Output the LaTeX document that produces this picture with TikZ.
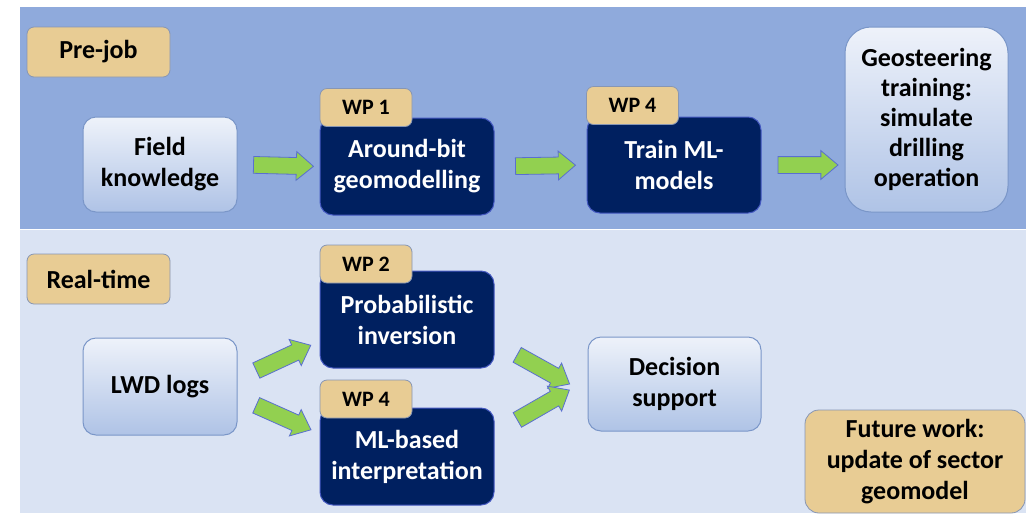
\documentclass[tikz,border=0pt]{standalone}
\usepackage{fontspec}
\setmainfont{Carlito}
\usetikzlibrary{shapes.arrows,calc}
\definecolor{topband}{HTML}{8FAADC}
\definecolor{botband}{HTML}{DAE3F3}
\definecolor{navy}{HTML}{002060}
\definecolor{navyedge}{HTML}{4458C0}
\definecolor{lightedge}{HTML}{7A96C8}
\definecolor{lighttop}{HTML}{EEF2FA}
\definecolor{lightbot}{HTML}{AFC3E6}
\definecolor{tagfill}{HTML}{E8CC94}
\definecolor{tagedge}{HTML}{8796B4}
\definecolor{arrgreen}{HTML}{92D050}
\definecolor{arredge}{HTML}{5A6FD0}
\tikzset{
  txt/.style={font=\fontsize{26}{31}\selectfont\bfseries, align=center, inner sep=0pt},
  lightbox/.style={txt, rectangle, rounded corners=13pt, draw=lightedge, line width=1pt,
    top color=lighttop, bottom color=lightbot, text=black},
  darkbox/.style={txt, rectangle, rounded corners=13pt, draw=navyedge, line width=1pt,
    fill=navy, text=white},
  tagbox/.style={txt, rectangle, rounded corners=7pt, draw=tagedge, line width=0.8pt,
    fill=tagfill, text=black},
  wptag/.style={tagbox, font=\fontsize{22}{26}\selectfont\bfseries, minimum width=92pt, minimum height=38pt},
  garrow/.style={single arrow, draw=arredge, fill=arrgreen, line width=0.8pt,
    inner sep=8pt, single arrow head extend=6pt, single arrow tip angle=80,
    minimum height=60pt, minimum width=0pt, sloped, midway, outer sep=0pt}
}
\begin{document}
\begin{tikzpicture}[x=1pt,y=-1pt]
\useasboundingbox (0,0) rectangle (1032,515);
\fill[white] (0,0) rectangle (1032,515);
% bands
\fill[topband] (20,7) rectangle (1026,229);
\fill[botband] (20,230) rectangle (1026,513);

% pre-job row
\node[tagbox, minimum width=143pt, minimum height=50pt] (prejob) at (98.5,52) {Pre-job};
\node[lightbox, minimum width=154pt, minimum height=95pt] (field) at (160,164.5) {Field\\knowledge};
\node[darkbox, minimum width=174pt, minimum height=97pt] (around) at (407,166.5) {Around-bit\\geomodelling};
\node[wptag] (wp1) at (366,107.5) {WP 1};
\node[darkbox, minimum width=174pt, minimum height=96pt] (train) at (674,165) {Train ML-\\models};
\node[wptag] (wp4a) at (632.5,105.5) {WP 4};
\node[lightbox, rounded corners=26pt, font=\fontsize{26}{30}\selectfont\bfseries, minimum width=163pt, minimum height=185pt] (geo) at (926.5,119.5) {Geosteering\\training:\\simulate\\drilling\\operation};

\path (field.east) -- node[garrow] (ar1) {} (around.west);
\path (around.east) -- node[garrow] (ar2) {} (train.west);
\path (train.east) -- node[garrow] (ar3) {} (train.east -| geo.west);

% real-time row
\node[tagbox, minimum width=143pt, minimum height=50pt] (realtime) at (98.5,279) {Real-time};
\node[lightbox, minimum width=154pt, minimum height=97pt] (lwd) at (160,386.5) {LWD logs};
\node[darkbox, minimum width=174pt, minimum height=97pt] (prob) at (407,319.5) {Probabilistic\\inversion};
\node[wptag] (wp2) at (366,264) {WP 2};
\node[darkbox, minimum width=174pt, minimum height=97pt] (ml) at (407,456.5) {ML-based\\interpretation};
\node[wptag] (wp4b) at (366,399) {WP 4};
\node[lightbox, minimum width=173pt, minimum height=94pt] (decision) at (674.5,384) {Decision\\support};
\node[tagbox, rounded corners=14pt, minimum width=220pt, minimum height=103pt] (future) at (915,461.5) {Future work:\\update of sector\\geomodel};

\coordinate (b1s) at (251,373);
\coordinate (b1e) at (307,347);
\coordinate (b2s) at (251,403);
\coordinate (b2e) at (307,428);
\coordinate (b3s) at (512,352);
\coordinate (b3e) at (566,382);
\coordinate (b4s) at (512,423);
\coordinate (b4e) at (566,392);
\path (b1s) -- node[garrow] (ar4) {} (b1e);
\path (b2s) -- node[garrow] (ar5) {} (b2e);
\path (b3s) -- node[garrow] (ar6) {} (b3e);
\path (b4s) -- node[garrow] (ar7) {} (b4e);
\end{tikzpicture}
\end{document}
